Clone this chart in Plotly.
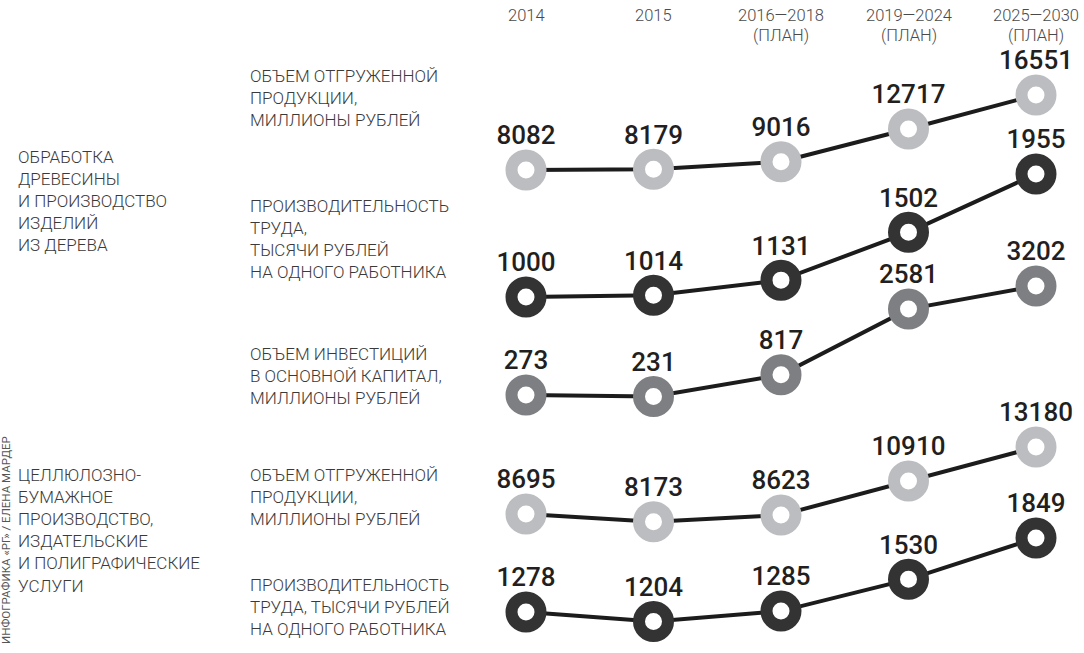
import plotly.graph_objects as go

# ---- data ----
periods = ["2014", "2015", "2016—2018", "2019—2024", "2025—2030"]
period_notes = ["", "", "(ПЛАН)", "(ПЛАН)", "(ПЛАН)"]

wood_shipped = [8082, 8179, 9016, 12717, 16551]
wood_productivity = [1000, 1014, 1131, 1502, 1955]
wood_investment = [273, 231, 817, 2581, 3202]
pulp_shipped = [8695, 8173, 8623, 10910, 13180]
pulp_productivity = [1278, 1204, 1285, 1530, 1849]

series = [wood_shipped, wood_productivity, wood_investment, pulp_shipped, pulp_productivity]
series_labels = [
    "ОБЪЕМ ОТГРУЖЕННОЙ<br>ПРОДУКЦИИ,<br>МИЛЛИОНЫ РУБЛЕЙ",
    "ПРОИЗВОДИТЕЛЬНОСТЬ<br>ТРУДА,<br>ТЫСЯЧИ РУБЛЕЙ<br>НА ОДНОГО РАБОТНИКА",
    "ОБЪЕМ ИНВЕСТИЦИЙ<br>В ОСНОВНОЙ КАПИТАЛ,<br>МИЛЛИОНЫ РУБЛЕЙ",
    "ОБЪЕМ ОТГРУЖЕННОЙ<br>ПРОДУКЦИИ,<br>МИЛЛИОНЫ РУБЛЕЙ",
    "ПРОИЗВОДИТЕЛЬНОСТЬ<br>ТРУДА, ТЫСЯЧИ РУБЛЕЙ<br>НА ОДНОГО РАБОТНИКА",
]
group_labels = [
    "ОБРАБОТКА<br>ДРЕВЕСИНЫ<br>И ПРОИЗВОДСТВО<br>ИЗДЕЛИЙ<br>ИЗ ДЕРЕВА",
    "ЦЕЛЛЮЛОЗНО-<br>БУМАЖНОЕ<br>ПРОИЗВОДСТВО,<br>ИЗДАТЕЛЬСКИЕ<br>И ПОЛИГРАФИЧЕСКИЕ<br>УСЛУГИ",
]
credit = "ИНФОГРАФИКА «РГ» / ЕЛЕНА МАРДЕР"

# ---- styling / layout ----
W, H = 1084, 653
LIGHT, DARK, MID = "#bcbdc0", "#333333", "#7e7f82"
marker_colors = [LIGHT, DARK, MID, LIGHT, DARK]
# screen pixel rows where first and last values of each series sit (band placement)
row_px = [(170, 95), (297, 174), (395, 286), (514, 447), (612, 538)]
series_label_top = [64, 194, 342, 463, 573]
group_label_top = [145, 463]

x_first_px, x_step_px = 526, 127.5
x_min = -x_first_px / x_step_px
x_max = x_min + W / x_step_px


def px_x(px):
    return px / W


def px_y(py):
    return 1 - py / H


fig = go.Figure()
for i, vals in enumerate(series):
    axis_name = "y" if i == 0 else f"y{i+1}"
    fig.add_trace(go.Scatter(
        x=list(range(len(periods))), y=vals, yaxis=axis_name,
        mode="lines+markers+text",
        line=dict(color="#1c1c1c", width=4),
        marker=dict(symbol="circle", size=29, color="white",
                    line=dict(color=marker_colors[i], width=12)),
        text=[str(v) for v in vals], textposition="top center",
        textfont=dict(family="Roboto, sans-serif", size=26, color="#231f20", weight=500),
        cliponaxis=False, showlegend=False, hoverinfo="skip",
    ))

layout_axes = {}
for i, vals in enumerate(series):
    v0, v1 = vals[0], vals[-1]
    p0, p1 = row_px[i]
    s = (v1 - v0) / (p0 - p1)
    top = v0 + p0 * s
    bottom = v0 - (H - p0) * s
    key = "yaxis" if i == 0 else f"yaxis{i+1}"
    ax = dict(range=[bottom, top], visible=False, domain=[0, 1], fixedrange=True)
    if i > 0:
        ax["overlaying"] = "y"
    layout_axes[key] = ax

annotations = []
label_font = dict(family="Roboto, Noto Sans, sans-serif", size=17, color="#3a3a3a", weight=300)
year_font = dict(family="Roboto, sans-serif", size=16.5, color="#4a4a4a", weight=300)
for i, p in enumerate(periods):
    annotations.append(dict(x=i, y=px_y(15), xref="x", yref="paper", text=p,
                            showarrow=False, xanchor="center", yanchor="middle", font=year_font))
    if period_notes[i]:
        annotations.append(dict(x=i, y=px_y(35), xref="x", yref="paper", text=period_notes[i],
                                showarrow=False, xanchor="center", yanchor="middle", font=year_font))
for i, lab in enumerate(series_labels):
    annotations.append(dict(x=px_x(248), y=px_y(series_label_top[i]), xref="paper", yref="paper",
                            text=lab, showarrow=False, xanchor="left", yanchor="top", align="left",
                            font=label_font))
for i, lab in enumerate(group_labels):
    annotations.append(dict(x=px_x(16), y=px_y(group_label_top[i]), xref="paper", yref="paper",
                            text=lab, showarrow=False, xanchor="left", yanchor="top", align="left",
                            font=label_font))
annotations.append(dict(x=px_x(6), y=px_y(540), xref="paper", yref="paper", text=credit,
                        textangle=-90, showarrow=False, xanchor="center", yanchor="middle",
                        font=dict(family="Roboto, sans-serif", size=11.5, color="#555555")))

fig.update_layout(
    width=W, height=H,
    margin=dict(l=0, r=0, t=0, b=0, autoexpand=False),
    paper_bgcolor="white", plot_bgcolor="white",
    xaxis=dict(range=[x_min, x_max], visible=False, fixedrange=True),
    annotations=annotations,
    **layout_axes,
)
fig.write_html("out.html", config={"displayModeBar": False},
               post_script="document.body.style.margin='0';")
